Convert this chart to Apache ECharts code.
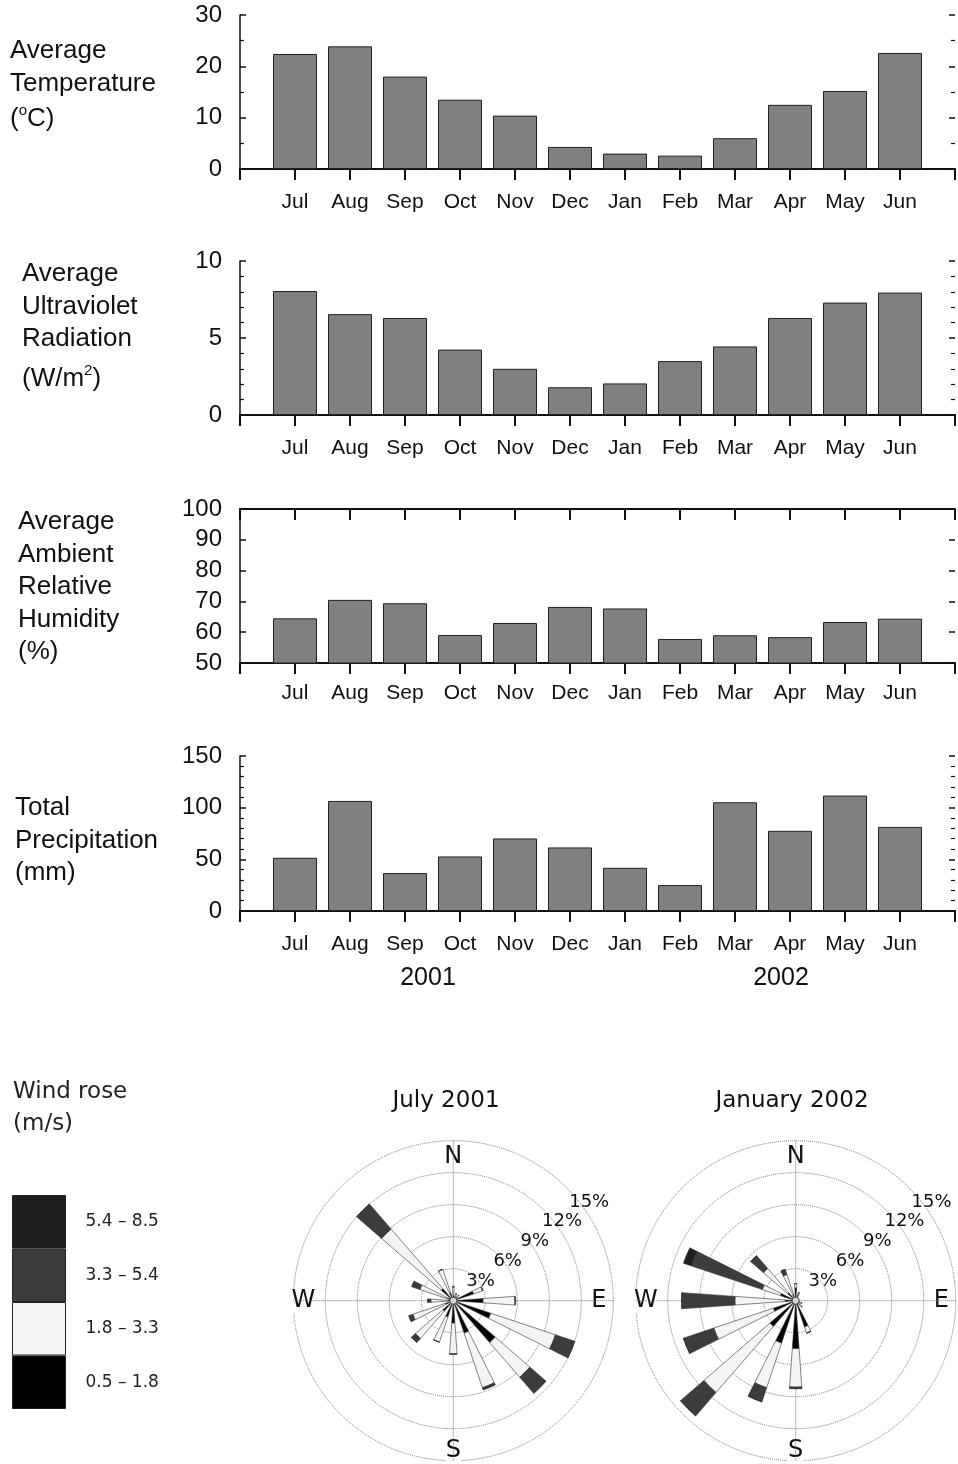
<!DOCTYPE html>
<html><head><meta charset="utf-8">
<script src="https://cdn.jsdelivr.net/npm/echarts@6/dist/echarts.min.js"></script>
<style>html,body{margin:0;padding:0;background:#fff}#c{width:958px;height:1464px}</style>
</head><body><div id="c"></div>
<script>
// ---------- data ----------
const months = ['Jul','Aug','Sep','Oct','Nov','Dec','Jan','Feb','Mar','Apr','May','Jun'];
const temperature = [22.4, 23.9, 18.0, 13.5, 10.4, 4.3, 3.0, 2.6, 6.0, 12.5, 15.2, 22.6];
const ultraviolet = [8.05, 6.55, 6.3, 4.25, 3.0, 1.8, 2.05, 3.5, 4.45, 6.3, 7.3, 7.95];
const humidity = [64.5, 70.5, 69.4, 59.1, 63.0, 68.2, 67.7, 57.8, 59.0, 58.4, 63.3, 64.4];
const precipitation = [51.5, 106.5, 36.7, 52.8, 70.2, 61.5, 41.8, 25.1, 105.2, 77.6, 111.7, 81.4];
const years = ['2001', '2002'];

const directions = ['N','NNE','NE','ENE','E','ESE','SE','SSE','S','SSW','SW','WSW','W','WNW','NW','NNW'];
const speedClasses = ['0.5 – 1.8','1.8 – 3.3','3.3 – 5.4','5.4 – 8.5'];
const roseTitles = ['July 2001','January 2002'];
const ringTicks = [3, 6, 9, 12, 15];
// July 2001 (% frequency per direction, per speed class)
const jul_05_18 = [0.5, 0.4, 0.5, 2.0, 2.8, 3.7, 5.2, 3.2, 2.1, 1.6, 1.3, 0.8, 0.5, 0.6, 1.5, 0.8];
const jul_18_33 = [0.8, 0.3, 0.2, 0.9, 3.0, 6.4, 4.3, 5.4, 2.9, 2.5, 3.4, 3.2, 1.6, 2.7, 7.4, 2.3];
const jul_33_54 = [0, 0, 0, 0, 0, 1.9, 2.0, 0.2, 0, 0, 0.5, 0.4, 0.3, 0.8, 3.1, 0];
const jul_54_85 = [0, 0, 0, 0, 0, 0, 0, 0, 0, 0, 0, 0, 0, 0, 0, 0];
// January 2002
const jan_05_18 = [1.2, 0.6, 0.3, 0.3, 0.3, 0.4, 0.5, 2.6, 4.5, 4.2, 3.2, 2.2, 1.0, 1.5, 1.0, 0.6];
const jan_18_33 = [0.4, 0.2, 0, 0, 0, 0.2, 0.3, 0.6, 3.6, 4.4, 8.2, 5.9, 4.7, 1.8, 3.0, 2.0];
const jan_33_54 = [0, 0, 0, 0, 0, 0, 0, 0, 0.15, 1.4, 2.9, 3.0, 5.0, 7.0, 1.6, 0.5];
const jan_54_85 = [0, 0, 0, 0, 0, 0, 0, 0, 0, 0, 0, 0, 0, 0.8, 0, 0];

// ---------- layout / style ----------
const SANS = "'Liberation Sans', Arial, sans-serif";
const DEJ = "'DejaVu Sans', Verdana, sans-serif";
const INK = '#111';
const classColors = ['#000000', '#f4f4f4', '#3c3c3c', '#1e1e1e'];

const panels = [
  {values: temperature, top: 15, height: 154, width: 718, min: 0, max: 30, interval: 10, minor: 2},
  {values: ultraviolet, top: 261, height: 154, width: 718, min: 0, max: 10, interval: 5, minor: 5},
  {values: humidity, top: 509, height: 154, width: 723, min: 50, max: 100, interval: 10, minor: 0},
  {values: precipitation, top: 756, height: 155, width: 723, min: 0, max: 150, interval: 50, minor: 5}
];
const cats = [''].concat(months, ['']);

const grid = [], xAxis = [], yAxis = [], series = [];
panels.forEach((p, i) => {
  grid.push({left: 240, top: p.top, width: p.width, height: p.height});
  const common = {
    type: 'category', gridIndex: i, boundaryGap: false, data: cats,
    axisLine: {show: true, lineStyle: {color: INK, width: 2}},
    axisTick: {show: true, interval: 0, length: 11, lineStyle: {color: INK, width: 2}},
    splitLine: {show: false}
  };
  xAxis.push(Object.assign({}, common, {position: 'bottom',
    axisLabel: {interval: 0, fontSize: 21, color: INK, fontFamily: SANS, margin: i === 2 ? 20 : 23}}));
  xAxis.push(Object.assign({}, common, {position: 'top',
    axisTick: {show: true, inside: true, interval: 0, length: 11, lineStyle: {color: INK, width: 2}},
    axisLabel: {show: false}}));
  const yc = {
    type: 'value', gridIndex: i, min: p.min, max: p.max, interval: p.interval,
    axisTick: {show: true, inside: true, length: 6, lineStyle: {color: INK, width: 1.5}},
    minorTick: {show: p.minor > 0, splitNumber: p.minor || 5, length: 4, lineStyle: {color: INK, width: 1.2}},
    splitLine: {show: false}, minorSplitLine: {show: false}
  };
  yAxis.push(Object.assign({}, yc, {position: 'left',
    axisLine: {show: true, lineStyle: {color: INK, width: 1.5}},
    axisLabel: {fontSize: 24, color: INK, fontFamily: SANS, margin: 18}}));
  yAxis.push(Object.assign({}, yc, {position: 'right',
    axisLine: {show: false}, axisLabel: {show: false}}));
  series.push({
    type: 'bar', xAxisIndex: 2 * i, yAxisIndex: 2 * i, silent: true,
    data: [null].concat(p.values, [null]), barWidth: '80%',
    itemStyle: {color: '#808080', borderColor: '#222', borderWidth: 1}
  });
});

// ---------- wind roses ----------
const roseCenters = [[453.3, 1300.7], [795.7, 1300.7]];
const roseData = [
  [jul_05_18, jul_18_33, jul_33_54, jul_54_85],
  [jan_05_18, jan_18_33, jan_33_54, jan_54_85]
];
const compassRich = {
  n: {fontSize: 24, fontFamily: DEJ, color: INK, lineHeight: 12, backgroundColor: '#fff'},
  e: {fontSize: 24, fontFamily: DEJ, color: INK, lineHeight: 24, backgroundColor: '#fff'},
  s: {fontSize: 24, fontFamily: DEJ, color: INK, lineHeight: 24, backgroundColor: '#fff'}
};
const polar = [], angleAxis = [], radiusAxis = [];
roseCenters.forEach((c, r) => {
  const base = polar.length;
  polar.push({center: c, radius: 160});
  polar.push({center: c, radius: 160});
  polar.push({center: c, radius: 168});
  // A: rings + compass cross + compass letters
  angleAxis.push({polarIndex: base, type: 'value', min: 0, max: 360, interval: 90, startAngle: 90, clockwise: true,
    axisLine: {show: false}, axisTick: {show: false},
    splitLine: {show: true, lineStyle: {type: 'dotted', color: '#777', width: 1}},
    axisLabel: {margin: -22, rich: compassRich,
      formatter: v => ({0: '{n|N}', 90: '{e|E}', 180: '{s|S}', 270: '{e|W}'})[v] || ''}});
  radiusAxis.push({polarIndex: base, type: 'value', min: 0, max: 15, interval: 3,
    axisLine: {show: false}, axisTick: {show: false}, axisLabel: {show: false},
    splitLine: {show: true, lineStyle: {type: 'dotted', color: '#777', width: 1}}});
  // B: bars
  angleAxis.push({polarIndex: base + 1, type: 'category', data: directions, startAngle: 101.25, clockwise: true,
    boundaryGap: true, axisLine: {show: false}, axisTick: {show: false}, axisLabel: {show: false}, splitLine: {show: false}});
  radiusAxis.push({polarIndex: base + 1, type: 'value', min: 0, max: 15,
    axisLine: {show: false}, axisTick: {show: false}, axisLabel: {show: false}, splitLine: {show: false}});
  // C: percentage labels
  angleAxis.push({polarIndex: base + 2, type: 'value', min: 0, max: 360, startAngle: 36,
    axisLine: {show: false}, axisTick: {show: false}, axisLabel: {show: false}, splitLine: {show: false}});
  radiusAxis.push({polarIndex: base + 2, type: 'value', min: 0, max: 15, interval: 3,
    axisLine: {show: false}, axisTick: {show: false}, splitLine: {show: false},
    axisLabel: {margin: 0, align: 'center', verticalAlign: 'middle', fontSize: 18, fontFamily: DEJ, color: INK,
      formatter: v => ringTicks.indexOf(v) >= 0 ? v + '%' : ''}});
  roseData[r].forEach((arr, k) => {
    series.push({
      type: 'bar', coordinateSystem: 'polar', polarIndex: base + 1, stack: 'rose' + r,
      name: speedClasses[k], data: arr, barWidth: '36%', silent: true,
      itemStyle: {color: classColors[k], borderColor: '#333', borderWidth: 0.6}
    });
  });
  // small hub at the centre
  series.push({type: 'scatter', coordinateSystem: 'polar', polarIndex: base, data: [[0, 0]],
    symbolSize: 7, silent: true, z: 10, itemStyle: {color: '#fff', borderColor: '#333', borderWidth: 1}});
});

// ---------- text ----------
const titleStyle = {fontSize: 26, fontWeight: 'normal', fontFamily: SANS, color: INK, lineHeight: 32.5};
const supRich = {
  n: {fontSize: 26, fontWeight: 'normal', fontFamily: SANS, color: INK, lineHeight: 32},
  s: {fontSize: 15, fontWeight: 'normal', fontFamily: SANS, color: INK, lineHeight: 18, verticalAlign: 'top'}
};
const title = [
  {left: 10, top: 35, padding: 0, text: 'Average\nTemperature', textStyle: titleStyle},
  {left: 10, top: 103, padding: 0, text: '{n|(}{s|o}{n|C)}', textStyle: {fontWeight: 'normal', rich: supRich}},
  {left: 22, top: 258, padding: 0, text: 'Average\nUltraviolet\nRadiation', textStyle: titleStyle},
  {left: 22, top: 363, padding: 0, text: '{n|(W/m}{s|2}{n|)}', textStyle: {fontWeight: 'normal', rich: supRich}},
  {left: 18, top: 506, padding: 0, text: 'Average\nAmbient\nRelative\nHumidity\n(%)', textStyle: titleStyle},
  {left: 15, top: 792, padding: 0, text: 'Total\nPrecipitation\n(mm)', textStyle: titleStyle},
  {left: 13, top: 1076, padding: 0, text: 'Wind rose\n(m/s)',
    textStyle: {fontSize: 23, fontWeight: 'normal', fontFamily: DEJ, color: '#222', lineHeight: 32}}
];
const txt = (t, x, y, font) => ({type: 'text', x: x, y: y, silent: true,
  style: {text: t, fill: INK, font: font, align: 'center', verticalAlign: 'middle', textAlign: 'center', textVerticalAlign: 'middle'}});
const graphic = [
  txt(years[0], 428, 978, "25px 'Liberation Sans', Arial, sans-serif"),
  txt(years[1], 781, 978, "25px 'Liberation Sans', Arial, sans-serif"),
  txt(roseTitles[0], 446, 1101, "23px 'DejaVu Sans', Verdana, sans-serif"),
  txt(roseTitles[1], 792, 1101, "23px 'DejaVu Sans', Verdana, sans-serif")
];

const chart = echarts.init(document.getElementById('c'), null, {renderer: 'canvas', width: 958, height: 1464});
chart.setOption({
  animation: false,
  backgroundColor: '#fff',
  title: title,
  graphic: graphic,
  grid: grid, xAxis: xAxis, yAxis: yAxis,
  polar: polar, angleAxis: angleAxis, radiusAxis: radiusAxis,
  legend: {
    orient: 'vertical', left: 12, top: 1195, padding: 0, itemGap: 0,
    itemWidth: 53, itemHeight: 52.5, icon: 'rect', selectedMode: false,
    data: speedClasses.slice().reverse(),
    itemStyle: {borderColor: '#222', borderWidth: 1},
    textStyle: {fontSize: 17, fontFamily: DEJ, color: '#222', padding: [0, 0, 0, 15]}
  },
  series: series
});
</script></body></html>
